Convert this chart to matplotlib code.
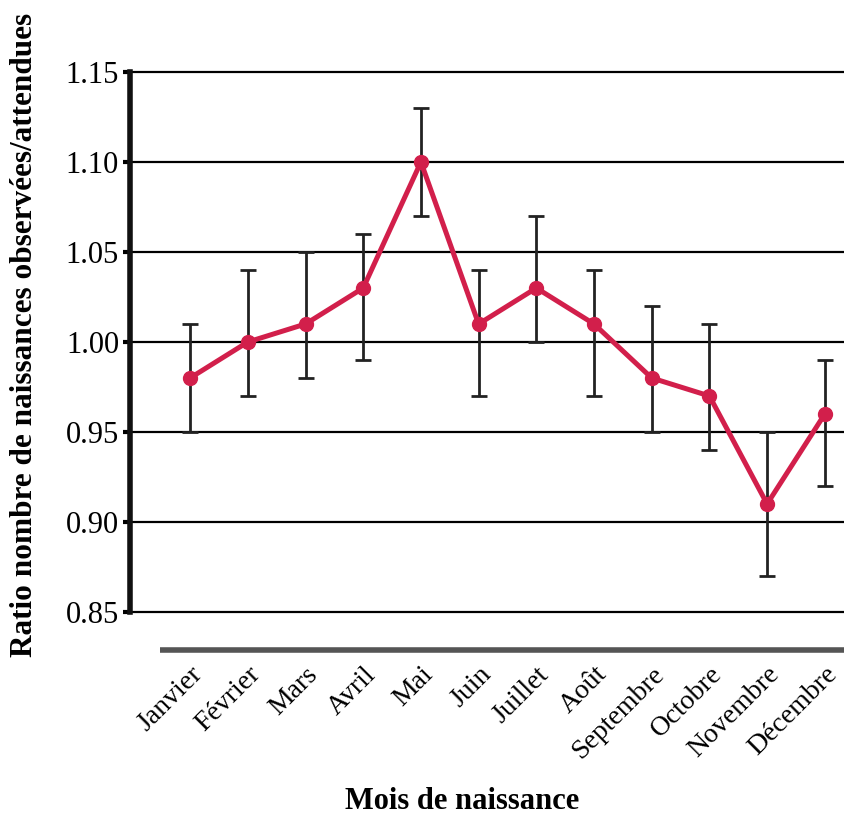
import matplotlib
matplotlib.use("Agg")
import matplotlib.pyplot as plt
import numpy as np

months = ["Janvier", "Février", "Mars", "Avril", "Mai", "Juin", "Juillet",
          "Août", "Septembre", "Octobre", "Novembre", "Décembre"]
ratio = [0.98, 1.00, 1.01, 1.03, 1.10, 1.01, 1.03, 1.01, 0.98, 0.97, 0.91, 0.96]
err_low = [0.95, 0.97, 0.98, 0.99, 1.07, 0.97, 1.00, 0.97, 0.95, 0.94, 0.87, 0.92]
err_high = [1.01, 1.04, 1.05, 1.06, 1.13, 1.04, 1.07, 1.04, 1.02, 1.01, 0.95, 0.99]
yticks = [0.85, 0.90, 0.95, 1.00, 1.05, 1.10, 1.15]

plt.rcParams["font.family"] = ["Liberation Serif", "DejaVu Serif"]

fig = plt.figure(figsize=(8.45, 8.21), dpi=100)
ax = fig.add_axes([0.154, 0.2546, 0.846, 0.6577])

x = np.arange(len(months))
y = np.array(ratio)
yerr = np.vstack([y - np.array(err_low), np.array(err_high) - y])

for v in yticks:
    ax.axhline(v, color="black", lw=1.6, zorder=1, clip_on=False)

ax.errorbar(x, y, yerr=yerr, fmt="none", ecolor="#222222", elinewidth=2.0,
            capsize=6, capthick=2.0, zorder=2)
ax.plot(x, y, color="#d21f4b", lw=3.6, marker="o", markersize=10,
        markerfacecolor="#d21f4b", markeredgecolor="#d21f4b", zorder=3)

ax.set_xlim(-1.04, 11.35)
ax.set_ylim(0.85, 1.15)
ax.set_yticks(yticks)
ax.set_yticklabels([f"{v:.2f}" for v in yticks], fontsize=22)
ax.tick_params(axis="y", length=5, width=3, direction="out", pad=3)

ax.set_xticks(x)
ax.set_xticklabels(months, rotation=45, ha="right", rotation_mode="anchor",
                   fontsize=20)
ax.tick_params(axis="x", length=0, pad=36)

for side in ["top", "right", "bottom"]:
    ax.spines[side].set_visible(False)
ax.spines["left"].set_linewidth(4)
ax.spines["left"].set_color("#111111")

# offset baseline under the plot area
ax.plot([0.042, 1.0], [-0.07, -0.07], transform=ax.transAxes, color="#555555",
        lw=4, clip_on=False, solid_capstyle="butt")

ax.set_ylabel("Ratio nombre de naissances observées/attendues", fontsize=22.5,
              fontweight="bold")
ax.set_xlabel("Mois de naissance", fontsize=22, fontweight="bold")
ax.yaxis.set_label_coords(-0.127, 0.513)
ax.xaxis.set_label_coords(0.465, -0.325)

fig.savefig("out.png", dpi=100)
